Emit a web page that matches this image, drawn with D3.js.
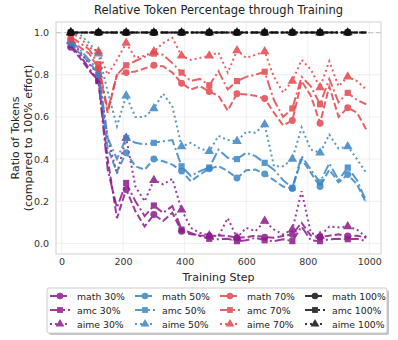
<!DOCTYPE html>
<html>
<head>
<meta charset="utf-8">
<script src="https://cdn.jsdelivr.net/npm/d3@7"></script>
<style>
  body { margin: 0; background: #fff; }
  svg { font-family: "DejaVu Sans", sans-serif; }
</style>
</head>
<body>
<svg id="chart" width="398" height="340"></svg>
<script>
// training steps (every 30 steps), markers every 3rd point
const steps = d3.range(30, 1000, 30);

const math30 = [0.93,0.88,0.82,0.77,0.40,0.12,0.256,0.153,0.08,0.137,0.106,0.145,0.058,0.043,0.038,0.035,0.038,0.035,0.027,0.03,0.037,0.03,0.027,0.035,0.043,0.098,0.037,0.03,0.037,0.043,0.035,0.037,0.027];
const amc30  = [0.94,0.89,0.83,0.77,0.35,0.17,0.287,0.20,0.13,0.18,0.145,0.177,0.066,0.05,0.035,0.022,0.02,0.022,0.011,0.015,0.027,0.015,0.011,0.02,0.011,0.08,0.015,0.011,0.02,0.022,0.02,0.022,0.011];
const aime30 = [0.96,0.91,0.85,0.80,0.50,0.33,0.50,0.27,0.20,0.30,0.28,0.306,0.16,0.074,0.05,0.038,0.035,0.12,0.027,0.074,0.058,0.106,0.066,0.043,0.066,0.248,0.05,0.035,0.08,0.077,0.08,0.066,0.03];

const math50 = [0.95,0.90,0.86,0.80,0.45,0.34,0.43,0.366,0.35,0.40,0.39,0.374,0.343,0.295,0.327,0.354,0.366,0.343,0.31,0.347,0.35,0.33,0.30,0.27,0.26,0.40,0.335,0.27,0.35,0.29,0.327,0.28,0.19];
const amc50  = [0.96,0.92,0.87,0.82,0.50,0.40,0.50,0.477,0.47,0.477,0.485,0.49,0.366,0.32,0.343,0.36,0.445,0.406,0.40,0.43,0.414,0.382,0.35,0.30,0.264,0.414,0.35,0.29,0.38,0.30,0.36,0.30,0.20];
const aime50 = [1.0,0.99,0.95,0.90,0.72,0.556,0.70,0.60,0.60,0.64,0.71,0.65,0.46,0.477,0.45,0.437,0.51,0.49,0.485,0.53,0.525,0.564,0.366,0.366,0.40,0.55,0.445,0.43,0.516,0.45,0.46,0.40,0.335];

const math70 = [0.97,0.93,0.90,0.83,0.62,0.80,0.81,0.815,0.83,0.845,0.84,0.81,0.76,0.73,0.745,0.72,0.70,0.63,0.71,0.706,0.70,0.687,0.62,0.56,0.583,0.77,0.70,0.57,0.745,0.60,0.643,0.62,0.54];
const amc70  = [0.98,0.95,0.92,0.85,0.63,0.80,0.845,0.865,0.885,0.90,0.895,0.855,0.81,0.77,0.78,0.75,0.817,0.73,0.77,0.79,0.80,0.814,0.68,0.60,0.64,0.79,0.745,0.66,0.78,0.67,0.714,0.68,0.66];
const aime70 = [1.0,0.975,0.93,0.91,0.80,0.87,0.95,0.88,0.89,0.91,0.95,0.975,0.89,0.87,0.88,0.89,0.905,0.81,0.915,0.88,0.895,0.91,0.79,0.716,0.77,0.87,0.825,0.74,0.864,0.745,0.79,0.77,0.73];

const full100 = steps.map(() => 1.0);

const xTicks = [0, 200, 400, 600, 800, 1000];
const yTicks = [0.0, 0.2, 0.4, 0.6, 0.8, 1.0];

const colors = { "30%": "#8b1a8b", "50%": "#3a86c2", "70%": "#e2474c", "100%": "#111111" };

const series = [
  { name: "math 30%", vals: math30, lvl: "30%", type: "math" },
  { name: "amc 30%", vals: amc30, lvl: "30%", type: "amc" },
  { name: "aime 30%", vals: aime30, lvl: "30%", type: "aime" },
  { name: "math 50%", vals: math50, lvl: "50%", type: "math" },
  { name: "amc 50%", vals: amc50, lvl: "50%", type: "amc" },
  { name: "aime 50%", vals: aime50, lvl: "50%", type: "aime" },
  { name: "math 70%", vals: math70, lvl: "70%", type: "math" },
  { name: "amc 70%", vals: amc70, lvl: "70%", type: "amc" },
  { name: "aime 70%", vals: aime70, lvl: "70%", type: "aime" },
  { name: "math 100%", vals: full100, lvl: "100%", type: "math" },
  { name: "amc 100%", vals: full100, lvl: "100%", type: "amc" },
  { name: "aime 100%", vals: full100, lvl: "100%", type: "aime" }
];

const dashes = { math: "7,3", amc: "10,3,2,3", aime: "2,3" };
const symbols = { math: d3.symbolCircle, amc: d3.symbolSquare, aime: d3.symbolTriangle };

const svg = d3.select("#chart");
const pL = 56, pR = 381, pT = 22, pB = 254;

const x = d3.scaleLinear().domain([-18, 1038]).range([pL, pR]);
const y = d3.scaleLinear().domain([-0.05, 1.05]).range([pB, pT]);

// grid
svg.append("g").selectAll("line").data(xTicks).join("line")
  .attr("x1", d => x(d)).attr("x2", d => x(d)).attr("y1", pT).attr("y2", pB)
  .attr("stroke", "#ececec").attr("stroke-width", 0.8);
svg.append("g").selectAll("line").data(yTicks).join("line")
  .attr("x1", pL).attr("x2", pR).attr("y1", d => y(d)).attr("y2", d => y(d))
  .attr("stroke", "#ececec").attr("stroke-width", 0.8);

// reference line at 1.0
svg.append("line")
  .attr("x1", pL).attr("x2", pR).attr("y1", y(1)).attr("y2", y(1))
  .attr("stroke", "#c8c8c8").attr("stroke-width", 1.2).attr("stroke-dasharray", "5,3");

// frame
svg.append("rect").attr("x", pL).attr("y", pT)
  .attr("width", pR - pL).attr("height", pB - pT)
  .attr("fill", "none").attr("stroke", "#d0d0d0").attr("stroke-width", 1);

// axes tick labels
const xAxis = svg.append("g").attr("transform", `translate(0,${pB})`)
  .call(d3.axisBottom(x).tickValues(xTicks).tickSize(0).tickPadding(4).tickFormat(d3.format("d")));
const yAxis = svg.append("g").attr("transform", `translate(${pL},0)`)
  .call(d3.axisLeft(y).tickValues(yTicks).tickSize(0).tickPadding(7).tickFormat(d3.format(".1f")));
[xAxis, yAxis].forEach(a => {
  a.select(".domain").remove();
  a.selectAll("text").attr("font-size", 9.5).attr("fill", "#333")
    .attr("font-family", "DejaVu Sans, sans-serif");
});

const line = d3.line().x((d, i) => x(steps[i])).y(d => y(d));

const plot = svg.append("g");
series.forEach(s => {
  const c = colors[s.lvl];
  const g = plot.append("g").attr("opacity", s.lvl === "100%" ? 0.9 : 0.85);
  g.append("path").datum(s.vals)
    .attr("d", line).attr("fill", "none")
    .attr("stroke", c).attr("stroke-width", 2)
    .attr("stroke-dasharray", dashes[s.type]);
  const sym = d3.symbol().type(symbols[s.type]).size(s.type === "aime" ? 40 : 38);
  g.selectAll("path.m").data(s.vals.filter((v, i) => i % 3 === 0)).join("path")
    .attr("class", "m")
    .attr("transform", (d, i) => `translate(${x(steps[i * 3])},${y(d)})`)
    .attr("d", sym).attr("fill", c);
});

// title and labels
svg.append("text").attr("x", (pL + pR) / 2).attr("y", 14)
  .attr("text-anchor", "middle").attr("font-size", 11.5).attr("fill", "#222")
  .text("Relative Token Percentage through Training");
svg.append("text").attr("x", (pL + pR) / 2).attr("y", 281)
  .attr("text-anchor", "middle").attr("font-size", 11).attr("fill", "#222")
  .text("Training Step");
const yl = svg.append("text").attr("transform", `translate(19,${(pT + pB) / 2}) rotate(-90)`)
  .attr("text-anchor", "middle").attr("font-size", 11).attr("fill", "#222");
yl.append("tspan").attr("x", 0).attr("dy", 0).text("Ratio of Tokens");
yl.append("tspan").attr("x", 0).attr("dy", 13).text("(compared to 100% effort)");

// legend
const lx = 47, ly = 288, lw = 340, lh = 45;
svg.append("rect").attr("x", lx + 2).attr("y", ly + 2).attr("width", lw).attr("height", lh)
  .attr("rx", 2).attr("fill", "#999").attr("opacity", 0.6);
svg.append("rect").attr("x", lx).attr("y", ly).attr("width", lw).attr("height", lh)
  .attr("rx", 2).attr("fill", "#fff").attr("stroke", "#ccc");

const lvls = ["30%", "50%", "70%", "100%"];
const types = ["math", "amc", "aime"];
const colX = [50, 135, 220, 305];
series.forEach(s => {
  const cx = colX[lvls.indexOf(s.lvl)];
  const cy = ly + 8 + types.indexOf(s.type) * 14;
  const c = colors[s.lvl];
  const g = svg.append("g").attr("opacity", 0.85);
  g.append("line").attr("x1", cx).attr("x2", cx + 20).attr("y1", cy).attr("y2", cy)
    .attr("stroke", c).attr("stroke-width", 2).attr("stroke-dasharray", dashes[s.type]);
  g.append("path").attr("transform", `translate(${cx + 10},${cy})`)
    .attr("d", d3.symbol().type(symbols[s.type]).size(34)).attr("fill", c);
  svg.append("text").attr("x", cx + 27).attr("y", cy + 3.5)
    .attr("font-size", 9.3).attr("fill", "#222").text(s.name);
});
</script>
</body>
</html>
